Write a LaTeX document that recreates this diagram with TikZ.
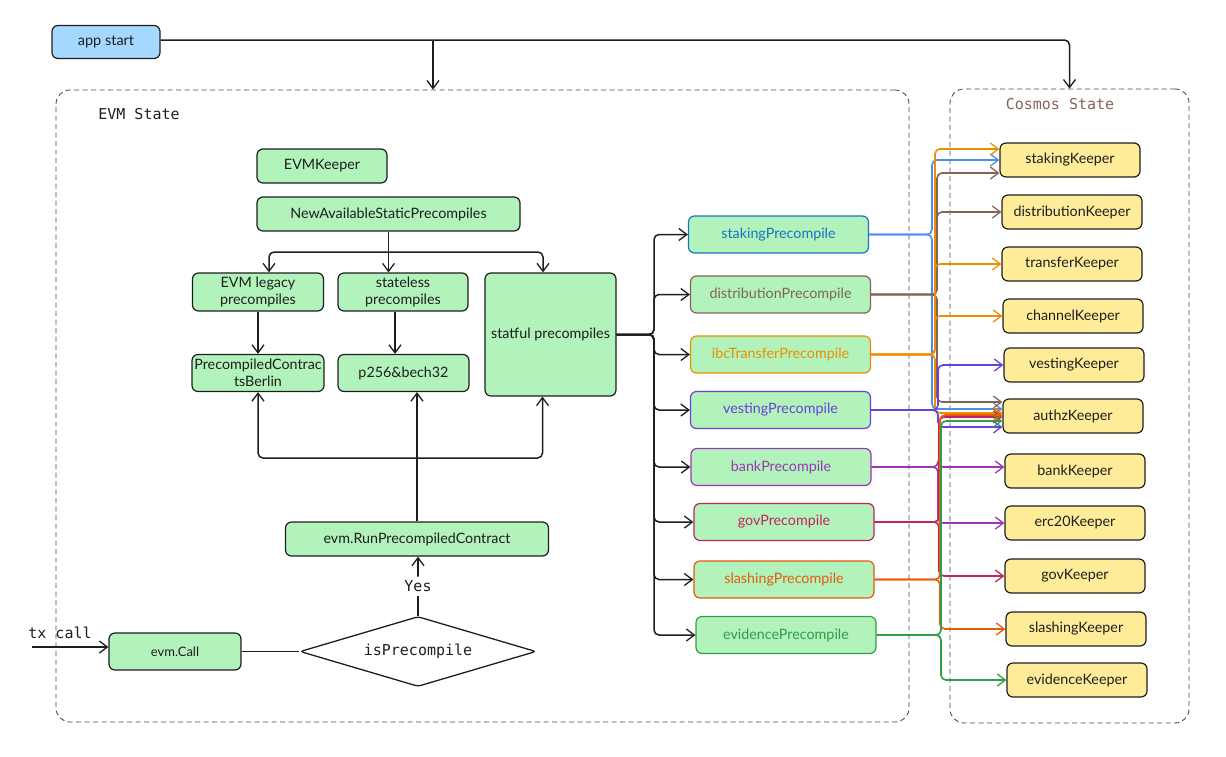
\documentclass[tikz,border=0pt]{standalone}
\usepackage{fontspec}
\usetikzlibrary{arrows.meta,shapes.geometric}
\newfontfamily\handf{Lato}
\newfontfamily\monof{DejaVu Sans Mono}
\definecolor{gfill}{HTML}{B2F2BB}
\definecolor{yfill}{HTML}{FFEC99}
\definecolor{bfill}{HTML}{A5D8FF}
\definecolor{ink}{HTML}{1E1E1E}
\definecolor{cstakT}{HTML}{1971C2}
\definecolor{cstak}{HTML}{4C8DF0}
\definecolor{cdist}{HTML}{846358}
\definecolor{cibc}{HTML}{F08C00}
\definecolor{cvest}{HTML}{6741D9}
\definecolor{cbank}{HTML}{9C36B5}
\definecolor{cgov}{HTML}{C2255C}
\definecolor{cslash}{HTML}{E8590C}
\definecolor{cevid}{HTML}{2F9E44}
\tikzset{
  hbox/.style={draw=ink, line width=1.2pt, rounded corners=6pt, align=center, inner sep=2pt, text=ink},
  gbox/.style={hbox, fill=gfill, font=\handf\fontsize{14.3}{17}\selectfont},
  pbox/.style={hbox, fill=gfill, draw=#1, text=#1, minimum width=180pt, minimum height=37pt, font=\handf\fontsize{14.3}{17}\selectfont},
  kbox/.style={hbox, fill=yfill, minimum width=140pt, minimum height=34pt, font=\handf\fontsize{14.3}{17}\selectfont},
  dbox/.style={draw=ink!80, line width=0.9pt, dash pattern=on 5pt off 3.5pt, rounded corners=14pt},
  conn/.style={line width=1.5pt, draw=ink, rounded corners=5pt},
  arr/.style={conn, -{Straight Barb[length=8pt,width=12pt,line width=1.3pt]}},
  carr/.style={arr, draw=#1, line width=1.6pt},
  monolbl/.style={font=\monof\fontsize{15}{17}\selectfont, text=ink, inner sep=1pt}
}
\begin{document}
\begin{tikzpicture}[x=1pt,y=-1pt]
\useasboundingbox (0,0) rectangle (1226,756);
% containers
\node[dbox, minimum width=853pt, minimum height=632pt] (evm) at (482.5,406) {};
\node[dbox, minimum width=239pt, minimum height=634pt] (cosmos) at (1069.5,406) {};
\node[monolbl] (evmlbl) at (139,114) {EVM State};
\node[monolbl, text=cdist] (coslbl) at (1060,104) {Cosmos State};

% left nodes
\node[hbox, fill=bfill, minimum width=108pt, minimum height=33pt, font=\handf\fontsize{14.5}{17}\selectfont] (app) at (106,42) {app start};
\node[gbox, minimum width=130pt, minimum height=34pt] (evmk) at (322,166) {EVMKeeper};
\node[gbox, minimum width=263pt, minimum height=34pt] (nasp) at (388.5,214) {NewAvailableStaticPrecompiles};
\node[gbox, minimum width=131pt, minimum height=38pt] (legacy) at (258,292) {EVM legacy\\precompiles};
\node[gbox, minimum width=130pt, minimum height=38pt] (stateless) at (403,292) {stateless\\precompiles};
\node[gbox, minimum width=131pt, minimum height=123pt] (statful) at (550.5,334.5) {statful precompiles};
\node[gbox, minimum width=132pt, minimum height=37pt] (berlin) at (258,373) {PrecompiledContrac\\tsBerlin};
\node[gbox, minimum width=131pt, minimum height=37pt] (p256) at (403.5,373) {p256\&bech32};
\node[gbox, minimum width=263pt, minimum height=34pt] (runpc) at (417,539) {evm.RunPrecompiledContract};
\node[gbox, minimum width=132pt, minimum height=37pt, font=\handf\fontsize{13}{15}\selectfont] (evmcall) at (175,651.5) {evm.Call};
\node[draw=ink, diamond, shape aspect=3.4, fill=white, line width=1.3pt, rounded corners=3pt, minimum width=236pt, minimum height=70pt, inner sep=0pt, font=\monof\fontsize{15}{17}\selectfont, text=ink] (dia) at (418,651.5) {isPrecompile};
\node[monolbl] (txlbl) at (60,633) {tx call};
\coordinate (tx) at (32,647);

% precompiles
\node[pbox=cstakT] (sp) at (778.5,234.5) {stakingPrecompile};
\node[pbox=cdist] (dp) at (780.5,294.5) {distributionPrecompile};
\node[pbox=cibc] (ip) at (780.5,354.5) {ibcTransferPrecompile};
\node[pbox=cvest] (vp) at (780.5,410) {vestingPrecompile};
\node[pbox=cbank] (bp) at (781,467) {bankPrecompile};
\node[pbox=cgov] (gp) at (784,522) {govPrecompile};
\node[pbox=cslash] (slp) at (784,579.5) {slashingPrecompile};
\node[pbox=cevid] (ep) at (786,635) {evidencePrecompile};

% keepers
\node[kbox] (ks) at (1070,160) {stakingKeeper};
\node[kbox] (kd) at (1072,212) {distributionKeeper};
\node[kbox] (kt) at (1072,264) {transferKeeper};
\node[kbox] (kc) at (1073,316) {channelKeeper};
\node[kbox] (kv) at (1074,365) {vestingKeeper};
\node[kbox] (ka) at (1073,416) {authzKeeper};
\node[kbox] (kb) at (1075,471) {bankKeeper};
\node[kbox] (ke) at (1075,523) {erc20Keeper};
\node[kbox] (kg) at (1075,576) {govKeeper};
\node[kbox] (ksl) at (1076,629) {slashingKeeper};
\node[kbox] (kev) at (1077,680) {evidenceKeeper};

% app start connectors
\coordinate (ab) at (433,40);
\draw[arr] ([yshift=2pt]app.east) -| (cosmos.north);
\draw[arr] (ab) -- (ab |- evm.north);

% static precompile tree
\coordinate (nb) at (388.5,252);
\draw[conn] (nasp.south) -- (nb);
\draw[arr] (nb) -| ([xshift=11pt]legacy.north);
\draw[arr] (nb) -- (nb |- stateless.north);
\draw[arr] (nb) -| ([xshift=-7.5pt]statful.north);
\draw[arr] (legacy.south) -- (berlin.north);
\draw[arr] ([xshift=-8pt]stateless.south) -- ([xshift=-8pt]stateless.south |- p256.north);

% run precompiled tree
\coordinate (rb) at (417,458);
\draw[conn] (runpc.north) -- (rb);
\draw[arr] (rb) -| (berlin.south);
\draw[arr] (rb) -- (rb |- p256.south);
\draw[arr] (rb) -| ([xshift=-8pt]statful.south);

% call chain
\draw[arr] (tx) -- (tx -| evmcall.west);
\draw[conn] (evmcall.east) -- (dia.west);
\draw[arr] (dia.north) -- node[fill=white, monolbl, inner sep=4pt] (yes) {Yes} (dia.north |- runpc.south);

% stateful fan-out
\coordinate (fb) at (654,334.5);
\foreach \t in {sp,dp,ip,vp,bp,gp,slp,ep}{
  \draw[arr] (statful.east) -- (fb) |- (\t.west);
}

% bus x positions
\coordinate (xs) at (932,0);
\coordinate (xd) at (937,0);
\coordinate (xi) at (935,0);
\coordinate (xv) at (938,0);
\coordinate (xb) at (938,0);
\coordinate (xg) at (939,0);
\coordinate (xsl) at (940,0);
\coordinate (xe) at (941,0);

% staking
\draw[carr=cstak] (sp.east) -- (sp.east -| xs) |- (ks.west);
\draw[carr=cstak] (sp.east) -- (sp.east -| xs) |- ([yshift=7pt]ka.west);
% distribution
\draw[carr=cdist] (dp.east) -- (dp.east -| xd) |- ([yshift=-13pt]ks.west);
\draw[carr=cdist] (dp.east) -- (dp.east -| xd) |- (kd.west);
\draw[carr=cdist] (dp.east) -- (dp.east -| xd) |- ([yshift=14pt]ka.west);
% ibc transfer
\draw[carr=cibc] (ip.east) -- (ip.east -| xi) |- ([yshift=11pt]ks.west);
\draw[carr=cibc] (ip.east) -- (ip.east -| xi) |- (kt.west);
\draw[carr=cibc] (ip.east) -- (ip.east -| xi) |- (kc.west);
\draw[carr=cibc] (ip.east) -- (ip.east -| xi) |- ([yshift=3pt]ka.west);
% vesting
\draw[carr=cvest] (vp.east) -- (vp.east -| xv) |- (kv.west);
\draw[carr=cvest] (vp.east) -- (vp.east -| xv) |- ([yshift=-11pt]ka.west);
% bank
\draw[carr=cbank] (bp.east) -- (bp.east -| xb) |- ([yshift=4pt]kb.west);
\draw[carr=cbank] (bp.east) -- (bp.east -| xb) |- (ke.west);
% gov
\draw[carr=cgov] (gp.east) -- (gp.east -| xg) |- (kg.west);
\draw[carr=cgov] (gp.east) -- (gp.east -| xg) |- ([yshift=-1pt]ka.west);
% slashing
\draw[carr=cslash] (slp.east) -- (slp.east -| xsl) |- (ksl.west);
\draw[carr=cslash] (slp.east) -- (slp.east -| xsl) |- ([yshift=1pt]ka.west);
% evidence
\draw[carr=cevid] (ep.east) -- (ep.east -| xe) |- (kev.west);
\draw[carr=cevid] (ep.east) -- (ep.east -| xe) |- ([yshift=-5pt]ka.west);
\end{tikzpicture}
\end{document}
